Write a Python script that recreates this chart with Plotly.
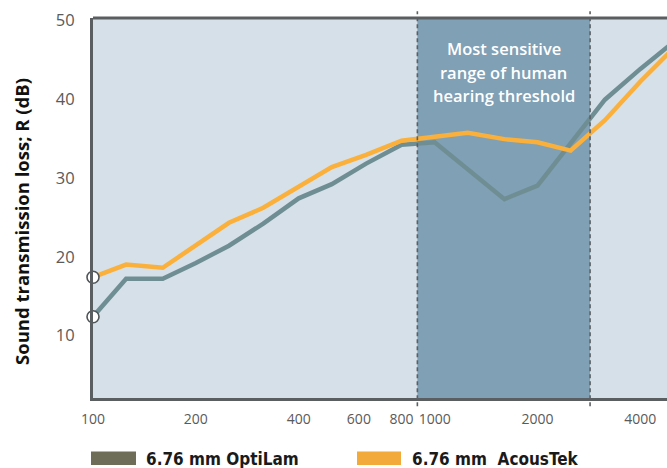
import math
import plotly.graph_objects as go

# ---- data ----
freqs = [100, 125, 160, 200, 250, 315, 400, 500, 630, 800, 1000, 1250, 1600, 2000, 2500, 3150, 4000, 5000]
optilam = [12.4, 17.2, 17.2, 19.2, 21.4, 24.2, 27.4, 29.2, 31.8, 34.2, 34.5, 31.0, 27.3, 29.0, 34.3, 39.9, 43.8, 47.2]
acoustek = [17.4, 19.0, 18.6, 21.4, 24.3, 26.2, 28.9, 31.35, 32.9, 34.7, 35.2, 35.7, 34.9, 34.5, 33.45, 37.3, 42.2, 46.4]
series_names = ["6.76 mm OptiLam", "6.76 mm  AcousTek"]
x_tickvals = [100, 200, 400, 600, 800, 1000, 2000, 4000]
x_ticktext = ["100", "200", "400", "600", "800", "1000", "2000", "4000"]
y_tickvals = [10, 20, 30, 40, 50]
sensitive_range = [890, 2850]
note_lines = ["Most sensitive", "range of human", "hearing threshold"]
y_title = "Sound transmission loss; R (dB)"

# ---- style ----
W, H = 667, 468
ML, MR, MT, MB = 93, 0, 18, 70
PW, PH = W - ML - MR, H - MT - MB
C_BG = "#d6e0e8"
C_BAND = "#7fa0b5"
C_GRAY = "#6f8e94"
C_ORANGE = "#fab03b"
C_AXIS = "#5b5e61"
C_TICK = "#5a5a5a"
C_LEG_GRAY = "#6e6e58"
C_LEG_OR = "#f2aa3a"


def px_x(p):
    return (p - ML) / PW


def px_y(p):
    return (H - MB - p) / PH


fig = go.Figure()
fig.add_trace(go.Scatter(x=freqs, y=optilam, mode="lines", name=series_names[0],
                         line=dict(color=C_GRAY, width=4.5), showlegend=False))
fig.add_trace(go.Scatter(x=freqs, y=acoustek, mode="lines", name=series_names[1],
                         line=dict(color=C_ORANGE, width=4.5), showlegend=False))
fig.add_trace(go.Scatter(x=[freqs[0], freqs[0]], y=[optilam[0], acoustek[0]], mode="markers",
                         marker=dict(size=12, color="white", line=dict(color="#4f5457", width=1.6)),
                         cliponaxis=False, showlegend=False, hoverinfo="skip"))

shapes = [
    dict(type="rect", xref="x", yref="paper", x0=sensitive_range[0], x1=sensitive_range[1],
         y0=0, y1=1, fillcolor=C_BAND, line=dict(width=0), layer="below"),
]
for xv in sensitive_range:
    shapes.append(dict(type="line", xref="x", yref="paper", x0=xv, x1=xv, y0=-0.022, y1=1.018,
                       line=dict(color="#5d6063", width=1.6, dash="4px,3px"), layer="above"))
# top border
shapes.append(dict(type="line", xref="paper", yref="paper", x0=0, x1=1, y0=1, y1=1,
                   line=dict(color=C_AXIS, width=3), layer="above"))
# legend swatches
shapes.append(dict(type="rect", xref="paper", yref="paper", x0=px_x(91), x1=px_x(136),
                   y0=px_y(465), y1=px_y(451.5), fillcolor=C_LEG_GRAY, line=dict(width=0)))
shapes.append(dict(type="rect", xref="paper", yref="paper", x0=px_x(357), x1=px_x(401),
                   y0=px_y(465), y1=px_y(451.5), fillcolor=C_LEG_OR, line=dict(width=0)))

note_x = math.log10(math.sqrt(sensitive_range[0] * sensitive_range[1]))
annotations = []
for i, t in enumerate(note_lines):
    annotations.append(dict(text=t, xref="x", yref="paper", x=note_x,
                            y=px_y([48, 72, 96][i]), showarrow=False, xanchor="center", yanchor="middle",
                            font=dict(family="Open Sans", size=16.5, color="white", weight=600)))
annotations.append(dict(text=y_title, xref="paper", yref="paper", x=px_x(21), y=px_y(222),
                        textangle=-90, showarrow=False, xanchor="center", yanchor="middle",
                        font=dict(family="Open Sans", size=18.5, color="#111111", weight="bold")))
annotations.append(dict(text=series_names[0], xref="paper", yref="paper", x=px_x(144), y=px_y(458.5),
                        showarrow=False, xanchor="left", yanchor="middle",
                        font=dict(family="DejaVu Sans Condensed", size=17, color="#1a1a1a", weight="bold")))
annotations.append(dict(text=series_names[1], xref="paper", yref="paper", x=px_x(410), y=px_y(458.5),
                        showarrow=False, xanchor="left", yanchor="middle",
                        font=dict(family="DejaVu Sans Condensed", size=17, color="#1a1a1a", weight="bold")))

fig.update_layout(
    width=W, height=H,
    margin=dict(l=ML, r=MR, t=MT, b=MB),
    paper_bgcolor="white", plot_bgcolor=C_BG,
    shapes=shapes, annotations=annotations,
    showlegend=False,
    xaxis=dict(type="log", range=[2, 3.68], tickvals=x_tickvals, ticktext=x_ticktext,
               showgrid=False, zeroline=False, showline=True, linecolor=C_AXIS, linewidth=3,
               ticks="outside", ticklen=6, tickcolor="rgba(0,0,0,0)",
               tickfont=dict(family="Open Sans", size=14, color=C_TICK)),
    yaxis=dict(range=[2.1, 50.25], tickvals=y_tickvals, showgrid=False, zeroline=False,
               showline=True, linecolor=C_AXIS, linewidth=3,
               ticks="outside", ticklen=12, tickcolor="rgba(0,0,0,0)",
               tickfont=dict(family="Open Sans", size=16.5, color=C_TICK)),
)

fig.write_html("out.html", config={"displayModeBar": False},
               post_script="document.body.style.margin='0';document.body.style.padding='0';")
